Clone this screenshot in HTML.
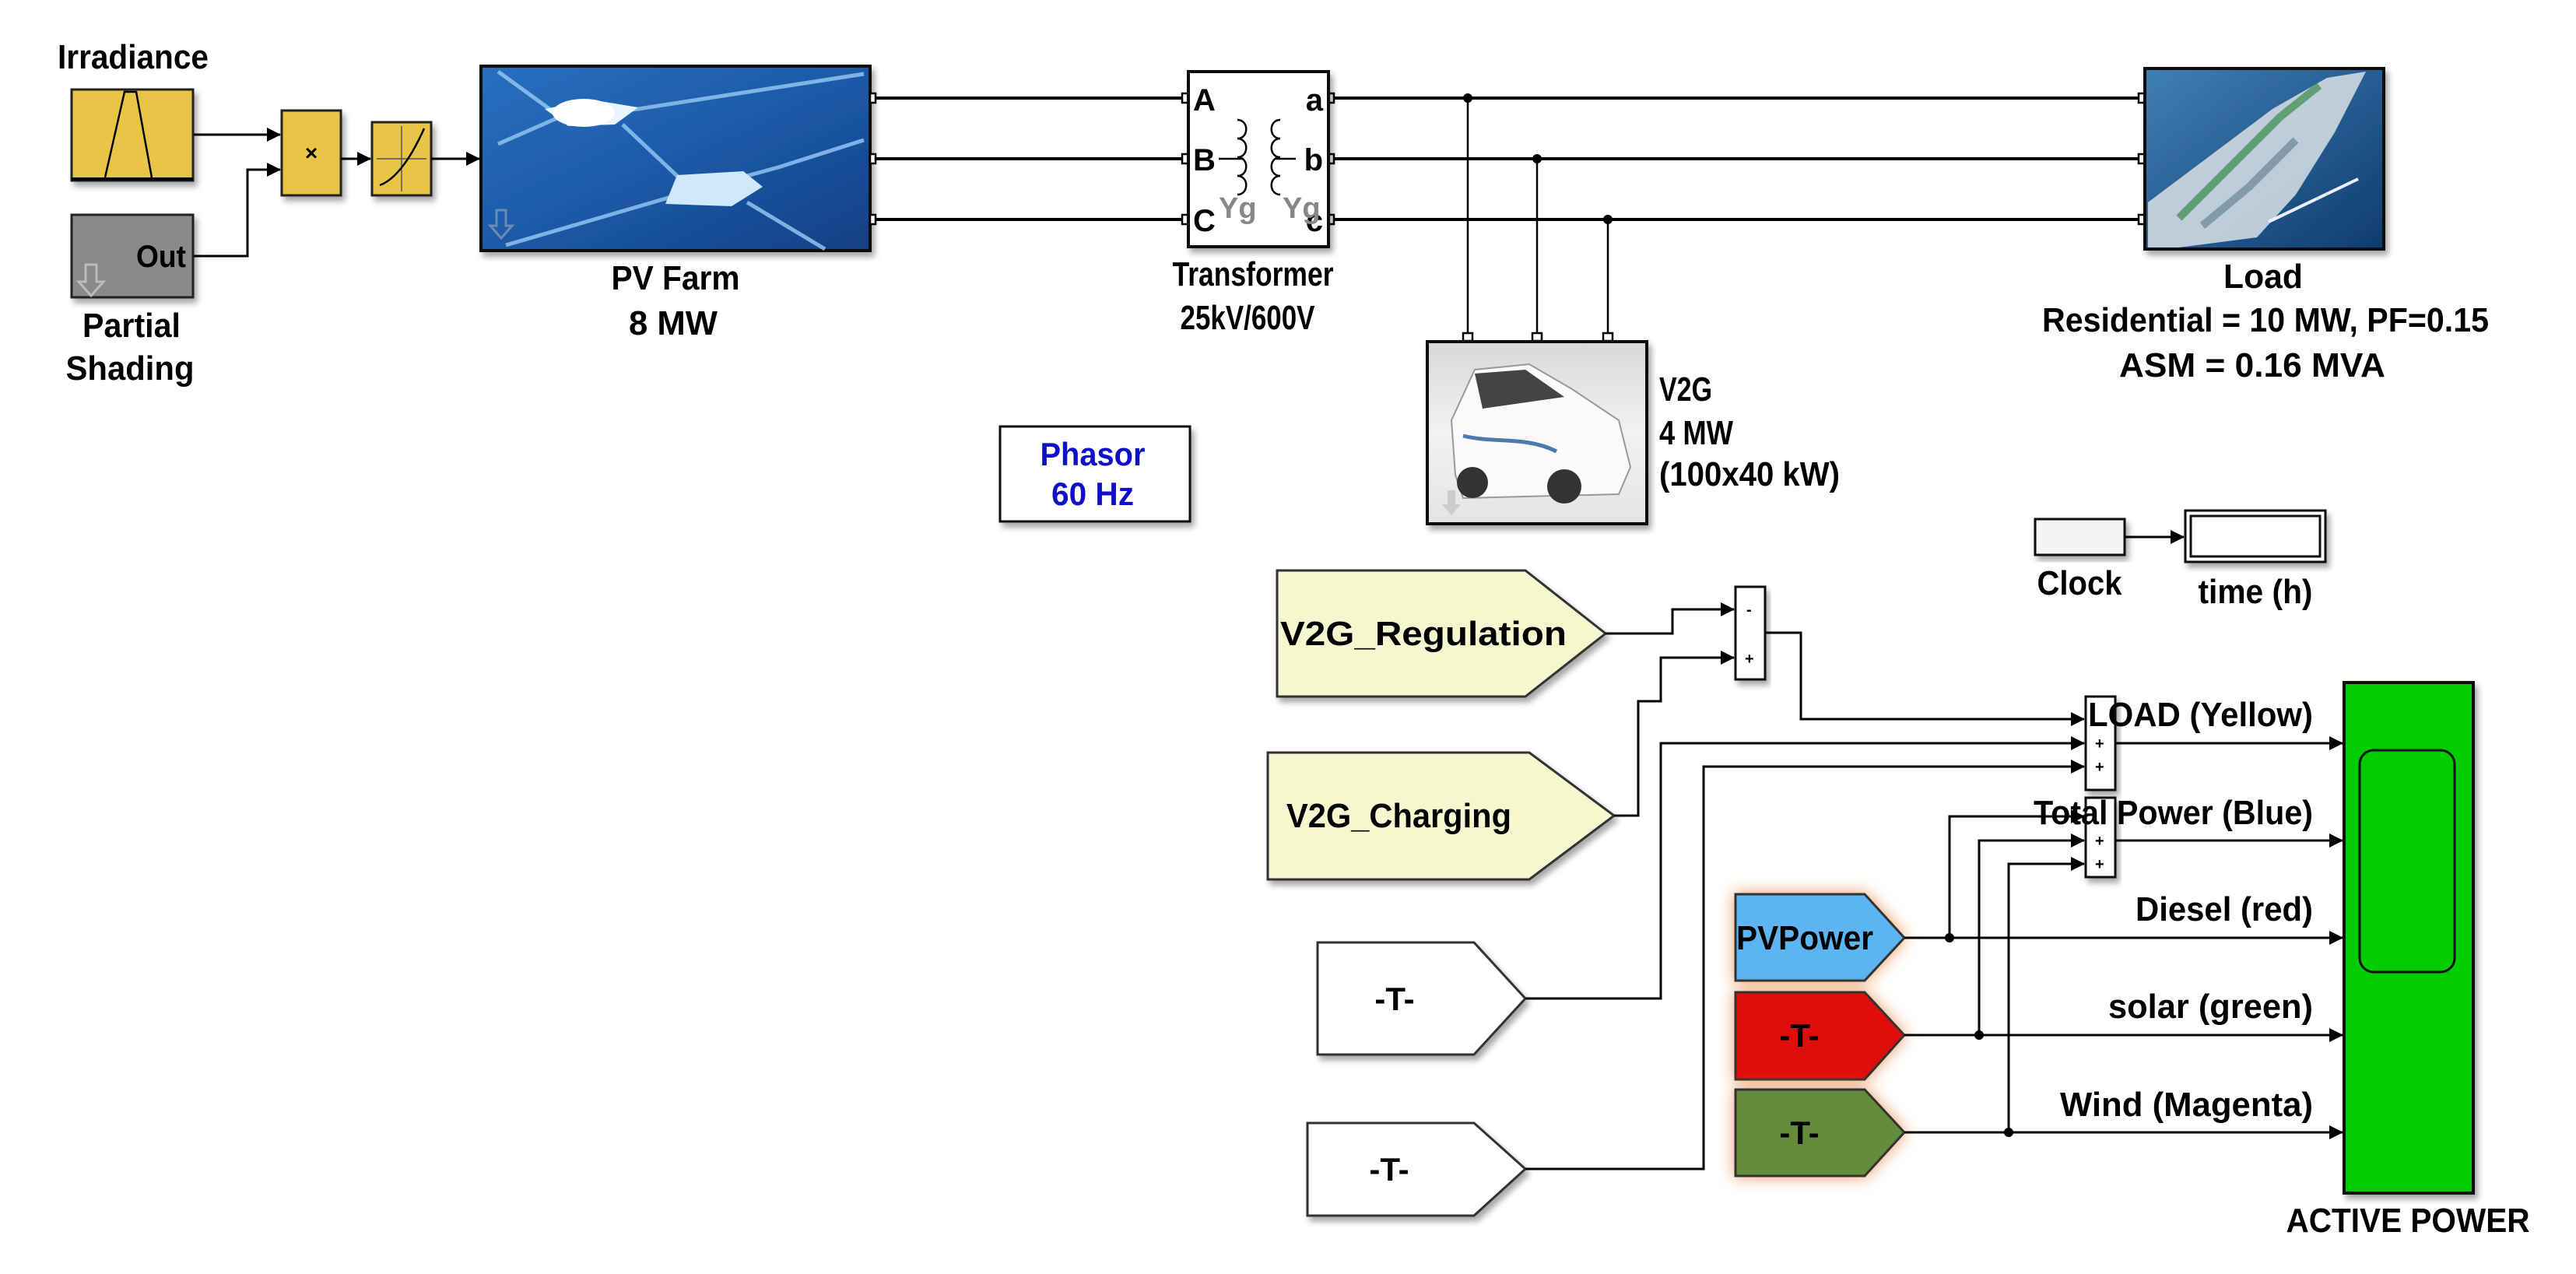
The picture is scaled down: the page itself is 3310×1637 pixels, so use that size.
<!DOCTYPE html>
<html><head><meta charset="utf-8"><style>
html,body{margin:0;padding:0;background:#fff;}
svg{display:block;}
text{font-family:"Liberation Sans",Arial,sans-serif;font-weight:bold;}
</style></head><body>
<svg width="3310" height="1637" viewBox="0 0 3310 1637" xmlns="http://www.w3.org/2000/svg">
<defs>
<marker id="ar" markerWidth="10" markerHeight="10" refX="9" refY="5" orient="auto" markerUnits="userSpaceOnUse">
<path d="M0,0 L10,5 L0,10 z" fill="#000"/></marker>
<marker id="ar2" markerWidth="18" markerHeight="18" refX="17" refY="9" orient="auto" markerUnits="userSpaceOnUse">
<path d="M0,0 L18,9 L0,18 z" fill="#000"/></marker>
<linearGradient id="pv" x1="0" y1="0" x2="1" y2="1">
<stop offset="0" stop-color="#2a6fc0"/><stop offset="0.5" stop-color="#1c5aa8"/><stop offset="1" stop-color="#123f85"/></linearGradient>
<linearGradient id="sea" x1="0" y1="0" x2="1" y2="1">
<stop offset="0" stop-color="#3f7fb5"/><stop offset="1" stop-color="#0e3c70"/></linearGradient>
<linearGradient id="car" x1="0" y1="0" x2="0" y2="1">
<stop offset="0" stop-color="#d8d8d8"/><stop offset="0.5" stop-color="#f2f2f2"/><stop offset="1" stop-color="#e4e4e4"/></linearGradient>
<filter id="sh" x="-10%" y="-10%" width="130%" height="130%"><feDropShadow dx="4" dy="6" stdDeviation="4" flood-color="#000" flood-opacity="0.35"/></filter>
<filter id="glow" x="-20%" y="-20%" width="140%" height="140%"><feDropShadow dx="0" dy="0" stdDeviation="10" flood-color="#e07020" flood-opacity="0.7"/></filter>
</defs>

<!-- Irradiance -->
<text x="171" y="88" font-size="44" text-anchor="middle" textLength="194" lengthAdjust="spacingAndGlyphs">Irradiance</text>
<rect x="92" y="115" width="156" height="117" fill="#e8c547" stroke="#222" stroke-width="3" filter="url(#sh)"/>
<path d="M135,228 L160,118 L175,118 L195,228" fill="none" stroke="#000" stroke-width="2.5"/>
<line x1="92" y1="230" x2="248" y2="230" stroke="#000" stroke-width="4"/>
<!-- Partial shading -->
<rect x="92" y="276" width="156" height="106" fill="#8a8a8a" stroke="#222" stroke-width="3" filter="url(#sh)"/>
<text x="239" y="343" font-size="40" text-anchor="end" textLength="64" lengthAdjust="spacingAndGlyphs">Out</text>
<path d="M110,340 h14 v22 h9 l-16,18 l-16,-18 h9 z" fill="none" stroke="#bbb" stroke-width="3"/>
<text x="169" y="433" font-size="44" text-anchor="middle" textLength="126" lengthAdjust="spacingAndGlyphs">Partial</text>
<text x="167" y="488" font-size="44" text-anchor="middle" textLength="165" lengthAdjust="spacingAndGlyphs">Shading</text>
<!-- product -->
<rect x="362" y="142" width="76" height="109" fill="#e8c547" stroke="#222" stroke-width="3" filter="url(#sh)"/>
<text x="400" y="206" font-size="28" text-anchor="middle" font-weight="normal">×</text>
<!-- lookup -->
<rect x="478" y="157" width="76" height="94" fill="#e8c547" stroke="#222" stroke-width="3" filter="url(#sh)"/>
<line x1="484" y1="204" x2="548" y2="204" stroke="#555" stroke-width="1.5"/>
<line x1="516" y1="162" x2="516" y2="246" stroke="#555" stroke-width="1.5"/>
<path d="M488,238 C505,232 525,210 545,165" fill="none" stroke="#000" stroke-width="2.5"/>
<!-- signal lines -->
<path d="M249,173 H360" fill="none" stroke="#000" stroke-width="3" marker-end="url(#ar2)"/>
<path d="M249,329 H318 V218 H360" fill="none" stroke="#000" stroke-width="3" marker-end="url(#ar2)"/>
<path d="M438,204 H476" fill="none" stroke="#000" stroke-width="3" marker-end="url(#ar2)"/>
<path d="M554,204 H616" fill="none" stroke="#000" stroke-width="3" marker-end="url(#ar2)"/>

<!-- PV farm -->
<g filter="url(#sh)"><rect x="618" y="85" width="500" height="237" fill="url(#pv)" stroke="#111" stroke-width="4"/></g>
<g stroke="#8fc4f0" stroke-width="5" fill="none" opacity="0.85">
<path d="M640,92 L720,150 L820,140 L1110,95"/>
<path d="M720,150 L640,185"/>
<path d="M800,160 L890,245 L1000,215 L1110,180"/>
<path d="M890,245 L650,315"/>
<path d="M960,260 L1060,320"/>
</g>
<path d="M700,140 L760,128 L820,138 L790,160 L730,162 z" fill="#e8f6ff"/>
<ellipse cx="750" cy="145" rx="40" ry="18" fill="#fff"/>
<path d="M870,225 L955,220 L980,240 L940,265 L855,262 z" fill="#cfe8fb"/>
<path d="M638,270 h12 v20 h8 l-14,16 l-14,-16 h8 z" fill="none" stroke="#6b8bb5" stroke-width="3"/>
<text x="868" y="372" font-size="44" text-anchor="middle" textLength="165" lengthAdjust="spacingAndGlyphs">PV Farm</text>
<text x="865" y="430" font-size="44" text-anchor="middle" textLength="114" lengthAdjust="spacingAndGlyphs">8 MW</text>

<!-- power lines -->
<g stroke="#000" stroke-width="4" fill="none">
<path d="M1118,126 H1527"/><path d="M1118,204 H1527"/><path d="M1118,282 H1527"/>
<path d="M1707,126 H2756"/><path d="M1707,204 H2756"/><path d="M1707,282 H2756"/>
</g>
<g stroke="#000" stroke-width="2.5" fill="none">
<path d="M1886,126 V438"/><path d="M1975,204 V438"/><path d="M2066,282 V438"/>
</g>
<circle cx="1886" cy="126" r="6" fill="#000"/><circle cx="1975" cy="204" r="6" fill="#000"/><circle cx="2066" cy="282" r="6" fill="#000"/>
<g fill="#fff" stroke="#000" stroke-width="2.5">
<rect x="1118" y="120" width="7" height="12"/><rect x="1118" y="198" width="7" height="12"/><rect x="1118" y="276" width="7" height="12"/>
<rect x="1519" y="120" width="8" height="12"/><rect x="1519" y="198" width="8" height="12"/><rect x="1519" y="276" width="8" height="12"/>
<rect x="1707" y="120" width="7" height="12"/><rect x="1707" y="198" width="7" height="12"/><rect x="1707" y="276" width="7" height="12"/>
<rect x="2748" y="120" width="8" height="12"/><rect x="2748" y="198" width="8" height="12"/><rect x="2748" y="276" width="8" height="12"/>
<rect x="1880" y="428" width="12" height="10"/><rect x="1969" y="428" width="12" height="10"/><rect x="2060" y="428" width="12" height="10"/>
</g>

<!-- transformer -->
<rect x="1527" y="92" width="180" height="225" fill="#fff" stroke="#111" stroke-width="4" filter="url(#sh)"/>
<text x="1533" y="142" font-size="40">A</text>
<text x="1533" y="219" font-size="40">B</text>
<text x="1533" y="297" font-size="40">C</text>
<text x="1700" y="142" font-size="40" text-anchor="end">a</text>
<text x="1700" y="219" font-size="40" text-anchor="end">b</text>
<text x="1700" y="297" font-size="40" text-anchor="end">c</text>
<g stroke="#000" stroke-width="2.5" fill="none">
<path d="M1566,204 H1598"/><path d="M1638,204 H1665"/>
<path d="M1590,154 c15,0 15,24 0,24 c15,0 15,24 0,24 c15,0 15,24 0,24 c15,0 15,24 0,24"/>
<path d="M1645,154 c-15,0 -15,24 0,24 c-15,0 -15,24 0,24 c-15,0 -15,24 0,24 c-15,0 -15,24 0,24"/>
</g>
<text x="1566" y="280" font-size="38" fill="#888" font-weight="normal">Yg</text>
<text x="1648" y="280" font-size="38" fill="#888" font-weight="normal">Yg</text>
<text x="1610" y="367" font-size="44" text-anchor="middle" textLength="207" lengthAdjust="spacingAndGlyphs">Transformer</text>
<text x="1603" y="423" font-size="44" text-anchor="middle" textLength="173" lengthAdjust="spacingAndGlyphs">25kV/600V</text>

<!-- Load -->
<g filter="url(#sh)"><rect x="2756" y="88" width="307" height="232" fill="url(#sea)" stroke="#111" stroke-width="4"/></g>
<path d="M2760,260 L2840,200 L2920,140 L2990,100 L3040,92 L3000,170 L2950,250 L2900,305 L2800,318 L2760,318 z" fill="#d8e2e6" opacity="0.85"/>
<path d="M2800,280 L2860,220 L2930,150 L2980,110" stroke="#3a8a4a" stroke-width="10" fill="none" opacity="0.7"/>
<path d="M2830,290 L2890,240 L2950,180" stroke="#5a7a8a" stroke-width="10" fill="none" opacity="0.6"/>
<path d="M2915,285 L3030,230" stroke="#eef" stroke-width="4"/>
<text x="2908" y="370" font-size="44" text-anchor="middle" textLength="102" lengthAdjust="spacingAndGlyphs">Load</text>
<text x="2911" y="426" font-size="44" text-anchor="middle" textLength="574" lengthAdjust="spacingAndGlyphs">Residential = 10 MW, PF=0.15</text>
<text x="2894" y="484" font-size="44" text-anchor="middle" textLength="342" lengthAdjust="spacingAndGlyphs">ASM = 0.16 MVA</text>

<!-- V2G -->
<g filter="url(#sh)"><rect x="1834" y="439" width="282" height="234" fill="url(#car)" stroke="#111" stroke-width="4"/></g>
<path d="M1870,610 L1865,540 L1895,475 L1965,468 L2020,500 L2080,540 L2095,600 L2080,635 L1880,640 z" fill="#fafafa" stroke="#999" stroke-width="2"/>
<path d="M1895,480 L1960,475 L2010,510 L1905,525 z" fill="#444"/>
<circle cx="1892" cy="620" r="20" fill="#333"/><circle cx="2010" cy="625" r="22" fill="#333"/>
<path d="M1880,560 C1920,570 1960,560 2000,580" stroke="#4a7ab0" stroke-width="5" fill="none"/>
<path d="M1860,630 h10 v18 h7 l-12,14 l-12,-14 h7 z" fill="#ccc"/>
<text x="2132" y="515" font-size="44" textLength="68" lengthAdjust="spacingAndGlyphs">V2G</text>
<text x="2132" y="571" font-size="44" textLength="95" lengthAdjust="spacingAndGlyphs">4 MW</text>
<text x="2132" y="624" font-size="44" textLength="232" lengthAdjust="spacingAndGlyphs">(100x40 kW)</text>

<!-- Phasor -->
<rect x="1285" y="548" width="244" height="122" fill="#fff" stroke="#111" stroke-width="3" filter="url(#sh)"/>
<text x="1404" y="598" font-size="42" fill="#1010c8" text-anchor="middle" textLength="135" lengthAdjust="spacingAndGlyphs">Phasor</text>
<text x="1404" y="649" font-size="42" fill="#1010c8" text-anchor="middle" textLength="106" lengthAdjust="spacingAndGlyphs">60 Hz</text>

<!-- Clock & time -->
<rect x="2615" y="667" width="115" height="46" fill="#f4f4f4" stroke="#111" stroke-width="3" filter="url(#sh)"/>
<path d="M2730,690 H2806" stroke="#000" stroke-width="3" marker-end="url(#ar2)"/>
<rect x="2808" y="656" width="180" height="66" fill="#fff" stroke="#111" stroke-width="3" filter="url(#sh)"/>
<rect x="2815" y="663" width="166" height="52" fill="none" stroke="#111" stroke-width="3"/>
<text x="2672" y="764" font-size="44" text-anchor="middle" textLength="109" lengthAdjust="spacingAndGlyphs">Clock</text>
<text x="2898" y="775" font-size="44" text-anchor="middle" textLength="147" lengthAdjust="spacingAndGlyphs">time (h)</text>

<!-- goto/from tags -->
<path d="M1641,733 H1960 L2063,814 L1960,895 H1641 z" fill="#f5f8cf" stroke="#333" stroke-width="3" filter="url(#sh)"/>
<text x="1645" y="829" font-size="44" textLength="368" lengthAdjust="spacingAndGlyphs">V2G_Regulation</text>
<path d="M1629,967 H1965 L2074,1048 L1965,1130 H1629 z" fill="#f5f8cf" stroke="#333" stroke-width="3" filter="url(#sh)"/>
<text x="1653" y="1063" font-size="44" textLength="289" lengthAdjust="spacingAndGlyphs">V2G_Charging</text>
<path d="M1693,1211 H1894 L1960,1283 L1894,1355 H1693 z" fill="#fff" stroke="#333" stroke-width="3" filter="url(#sh)"/>
<text x="1792" y="1298" font-size="42" text-anchor="middle">-T-</text>
<path d="M1680,1443 H1894 L1960,1502 L1894,1562 H1680 z" fill="#fff" stroke="#333" stroke-width="3" filter="url(#sh)"/>
<text x="1785" y="1517" font-size="42" text-anchor="middle">-T-</text>
<path d="M2230,1149 H2396 L2447,1205 L2396,1260 H2230 z" fill="#5cb4f0" stroke="#333" stroke-width="3" filter="url(#glow)"/>
<text x="2231" y="1220" font-size="44" textLength="176" lengthAdjust="spacingAndGlyphs">PVPower</text>
<path d="M2230,1275 H2396 L2447,1330 L2396,1387 H2230 z" fill="#e01010" stroke="#333" stroke-width="3" filter="url(#glow)"/>
<text x="2312" y="1345" font-size="42" text-anchor="middle">-T-</text>
<path d="M2230,1400 H2396 L2447,1455 L2396,1511 H2230 z" fill="#638c3c" stroke="#333" stroke-width="3" filter="url(#glow)"/>
<text x="2312" y="1470" font-size="42" text-anchor="middle">-T-</text>

<!-- sums -->
<rect x="2230" y="754" width="38" height="119" fill="#fff" stroke="#111" stroke-width="3" filter="url(#sh)"/>
<text x="2244" y="790" font-size="20" font-weight="normal">-</text>
<text x="2242" y="853" font-size="20" font-weight="normal">+</text>
<rect x="2680" y="895" width="38" height="120" fill="#fff" stroke="#111" stroke-width="3" filter="url(#sh)"/>
<text x="2692" y="962" font-size="20" font-weight="normal">+</text>
<text x="2692" y="992" font-size="20" font-weight="normal">+</text>
<rect x="2680" y="1025" width="38" height="102" fill="#fff" stroke="#111" stroke-width="3" filter="url(#sh)"/>
<text x="2692" y="1087" font-size="20" font-weight="normal">+</text>
<text x="2692" y="1117" font-size="20" font-weight="normal">+</text>

<!-- signal wiring -->
<g stroke="#000" stroke-width="3" fill="none">
<path d="M2063,814 H2149 V783 H2228" marker-end="url(#ar2)"/>
<path d="M2074,1048 H2105 V901 H2134 V845 H2228" marker-end="url(#ar2)"/>
<path d="M2268,813 H2314 V924 H2678" marker-end="url(#ar2)"/>
<path d="M1960,1283 H2134 V955 H2678" marker-end="url(#ar2)"/>
<path d="M1960,1502 H2189 V985 H2678" marker-end="url(#ar2)"/>
<path d="M2505,1205 V1049 H2678" marker-end="url(#ar2)"/>
<path d="M2543,1330 V1080 H2678" marker-end="url(#ar2)"/>
<path d="M2581,1455 V1110 H2678" marker-end="url(#ar2)"/>
<path d="M2718,955 H3010" marker-end="url(#ar2)"/>
<path d="M2718,1080 H3010" marker-end="url(#ar2)"/>
<path d="M2447,1205 H3010" marker-end="url(#ar2)"/>
<path d="M2447,1330 H3010" marker-end="url(#ar2)"/>
<path d="M2447,1455 H3010" marker-end="url(#ar2)"/>
</g>
<circle cx="2505" cy="1205" r="6" fill="#000"/><circle cx="2543" cy="1330" r="6" fill="#000"/><circle cx="2581" cy="1455" r="6" fill="#000"/>

<!-- scope -->
<rect x="3012" y="877" width="166" height="656" fill="#00cc00" stroke="#111" stroke-width="4" filter="url(#sh)"/>
<rect x="3032" y="964" width="122" height="285" rx="18" fill="none" stroke="#111" stroke-width="3"/>

<text x="2972" y="933" font-size="44" text-anchor="end" textLength="289" lengthAdjust="spacingAndGlyphs">LOAD (Yellow)</text>
<text x="2972" y="1059" font-size="44" text-anchor="end" textLength="359" lengthAdjust="spacingAndGlyphs">Total Power (Blue)</text>
<text x="2972" y="1183" font-size="44" text-anchor="end" textLength="228" lengthAdjust="spacingAndGlyphs">Diesel (red)</text>
<text x="2972" y="1308" font-size="44" text-anchor="end" textLength="263" lengthAdjust="spacingAndGlyphs">solar (green)</text>
<text x="2972" y="1434" font-size="44" text-anchor="end" textLength="325" lengthAdjust="spacingAndGlyphs">Wind (Magenta)</text>
<text x="3094" y="1583" font-size="44" text-anchor="middle" textLength="313" lengthAdjust="spacingAndGlyphs">ACTIVE POWER</text>
</svg>
</body></html>
